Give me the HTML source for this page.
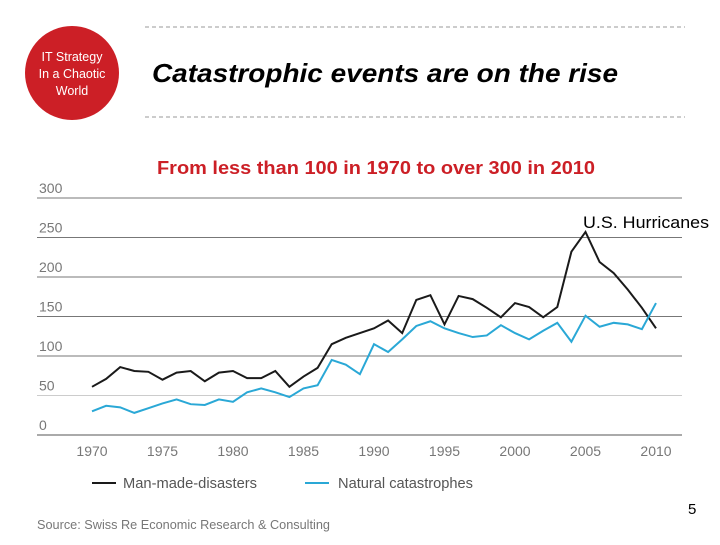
<!DOCTYPE html>
<html><head><meta charset="utf-8"><style>
body{margin:0;background:#fff;width:720px;height:540px;overflow:hidden;font-family:"Liberation Sans",sans-serif;}
</style></head><body>
<svg width="720" height="540" xmlns="http://www.w3.org/2000/svg">
<circle cx="72" cy="73" r="47" fill="#cc1f26"/>
<g fill="#fff" font-size="12.5" text-anchor="middle">
<text x="72" y="61">IT Strategy</text><text x="72" y="78">In a Chaotic</text><text x="72" y="95">World</text></g>
<line x1="145" y1="27" x2="685" y2="27" stroke="#999" stroke-dasharray="4,3"/>
<line x1="145" y1="117" x2="685" y2="117" stroke="#999" stroke-dasharray="4,3"/>
<text x="152" y="82" font-size="26" font-weight="bold" font-style="italic" textLength="466" lengthAdjust="spacingAndGlyphs">Catastrophic events are on the rise</text>
<text x="157" y="174" font-size="18.5" font-weight="bold" fill="#cc1f26" textLength="438" lengthAdjust="spacingAndGlyphs">From less than 100 in 1970 to over 300 in 2010</text>
<g id="grid"></g><g id="xt"></g>
<polyline id="manmade" fill="none" stroke="#1a1a1a" stroke-width="2"/>
<polyline id="natural" fill="none" stroke="#2aa8d6" stroke-width="2"/>
<text x="583" y="228" font-size="17" textLength="126" lengthAdjust="spacingAndGlyphs">U.S. Hurricanes</text>
<line x1="92" y1="483" x2="116" y2="483" stroke="#1a1a1a" stroke-width="2"/>
<text x="123" y="488" font-size="14.5" fill="#555" textLength="134" lengthAdjust="spacingAndGlyphs">Man-made-disasters</text>
<line x1="305" y1="483" x2="329" y2="483" stroke="#2aa8d6" stroke-width="2"/>
<text x="338" y="488" font-size="14.5" fill="#555" textLength="135" lengthAdjust="spacingAndGlyphs">Natural catastrophes</text>
<text x="37" y="529" font-size="12.5" fill="#777" textLength="293" lengthAdjust="spacingAndGlyphs">Source: Swiss Re Economic Research &amp; Consulting</text>
<text x="688" y="514" font-size="15">5</text>
</svg>
<script>
const years=[1970,1971,1972,1973,1974,1975,1976,1977,1978,1979,1980,1981,1982,1983,1984,1985,1986,1987,1988,1989,1990,1991,1992,1993,1994,1995,1996,1997,1998,1999,2000,2001,2002,2003,2004,2005,2006,2007,2008,2009,2010];
const manMade=[61,71,86,81,80,70,79,81,68,79,81,72,72,81,61,74,85,115,123,129,135,145,129,171,177,140,176,172,161,149,167,162,149,162,232,257,219,205,184,161,135];
const natural=[30,37,35,28,34,40,45,39,38,45,42,54,59,54,48,59,63,95,89,77,115,105,121,138,144,135,129,124,126,139,129,121,132,142,118,151,137,142,140,134,167];
const yTicks=[0,50,100,150,200,250,300];
const xTicks=[1970,1975,1980,1985,1990,1995,2000,2005,2010];
const X=y=>92+(y-1970)*14.1;
const Y=v=>435-v*0.79;
const NS="http://www.w3.org/2000/svg";
const grid=document.getElementById('grid');
yTicks.forEach(t=>{
 const l=document.createElementNS(NS,'line');
 l.setAttribute('x1',37);l.setAttribute('x2',682);l.setAttribute('y1',Y(t));l.setAttribute('y2',Y(t));
 l.setAttribute('stroke',t===0?'#555':(t===50?'#ccc':'#777'));l.setAttribute('stroke-width',1);
 
 
 grid.appendChild(l);
 const tx=document.createElementNS(NS,'text');
 tx.setAttribute('x',39);tx.setAttribute('y',Y(t)-5);tx.setAttribute('font-size',14);tx.setAttribute('fill','#777');
 tx.textContent=t;
 
 
 grid.appendChild(tx);
});
const xt=document.getElementById('xt');
xTicks.forEach(t=>{
 const tx=document.createElementNS(NS,'text');
 tx.setAttribute('x',X(t));tx.setAttribute('y',456);tx.setAttribute('font-size',14);tx.setAttribute('fill','#777');tx.setAttribute('text-anchor','middle');
 tx.textContent=t;
 
 
 xt.appendChild(tx);
});
document.getElementById('manmade').setAttribute('points',years.map((y,i)=>X(y)+','+Y(manMade[i])).join(' '));
document.getElementById('natural').setAttribute('points',years.map((y,i)=>X(y)+','+Y(natural[i])).join(' '));
</script>
</body></html>
